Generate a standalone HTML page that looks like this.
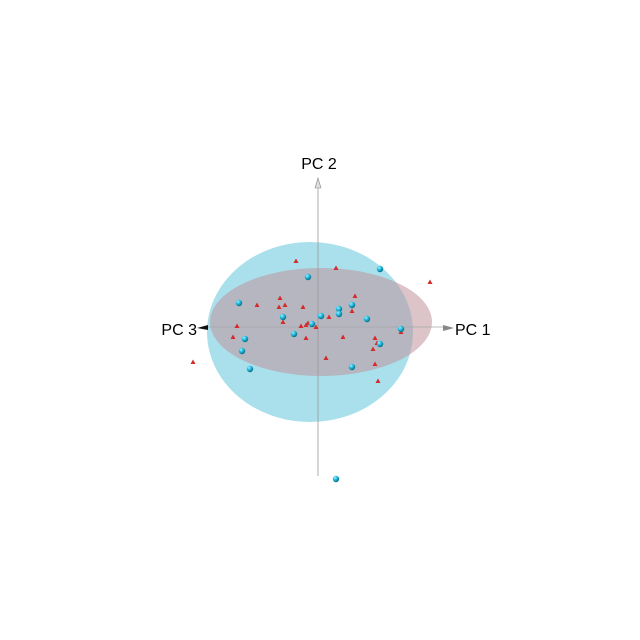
<!DOCTYPE html>
<html><head><meta charset="utf-8"><style>
html,body{margin:0;padding:0;background:#fff;width:640px;height:640px;overflow:hidden}
text{font-family:"Liberation Sans",sans-serif;font-size:16px;fill:#000}
</style></head><body>
<svg id="chart" width="640" height="640" viewBox="0 0 640 640">
<defs>
<radialGradient id="sph" cx="0.35" cy="0.3" r="0.7"><stop offset="0" stop-color="#9ff0ff"/><stop offset="0.5" stop-color="#1fb8dc"/><stop offset="1" stop-color="#0a6d86"/></radialGradient>
</defs>
<g id="ellipses"></g>
<g id="axes">
<line x1="318" y1="186" x2="318" y2="476" stroke="#999" stroke-width="1" stroke-opacity="0.8"/>
<line x1="205" y1="327" x2="445" y2="327" stroke="#aaa" stroke-width="1" stroke-opacity="0.8"/>
<path d="M318,178 L315,188 L321,188 Z" fill="#ddd" stroke="#888" stroke-width="0.6"/>
<path d="M454,328 L443,325 L443,331 Z" fill="#888"/>
<path d="M197,328 L208,325 L208,330 Z" fill="#111"/>
<text x="319" y="169" text-anchor="middle">PC 2</text>
<text x="455" y="335">PC 1</text>
<text x="197" y="335" text-anchor="end">PC 3</text>
</g>
<g id="points"></g>
</svg>
<script>
const blueX=[3.1,-0.5,-3.95,1.7,1.05,1.05,-1.75,0.15,2.45,-0.3,-1.2,-3.65,-3.8,-3.4,4.15,3.1,1.7,0.9];
const blueY=[2.9,2.5,1.2,1.1,0.9,0.65,0.5,0.55,0.4,0.15,-0.35,-0.6,-1.2,-2.1,-0.1,-0.85,-2.0,-7.6];
const redX=[-1.1,0.9,5.6,1.85,-1.9,-3.05,-1.95,-1.65,-0.75,1.7,-1.75,0.55,-0.5,-0.6,-0.1,-0.85,-4.05,-4.25,-0.6,1.25,2.85,2.95,2.75,4.15,0.4,2.85,3.0,-6.25];
const redY=[3.3,2.95,2.25,1.55,1.45,1.1,1.0,1.1,1.0,0.8,0.25,0.5,0.2,0.1,0,0.05,0.05,-0.5,-0.55,-0.5,-0.55,-0.8,-1.1,-0.25,-1.55,-1.85,-2.7,-1.75];
const ellBlue=[-0.4,-0.25,5.15,4.5];
const ellRed=[0.15,0.25,5.55,2.7];
const NS='http://www.w3.org/2000/svg';
const sx=v=>318+v*20, sy=v=>327-v*20;
const eg=document.getElementById('ellipses');
function ell(e,fill,op,name){const el=document.createElementNS(NS,'ellipse');
el.setAttribute('cx',sx(e[0]));el.setAttribute('cy',sy(e[1]));el.setAttribute('rx',e[2]*20);el.setAttribute('ry',e[3]*20);
el.setAttribute('fill',fill);el.setAttribute('fill-opacity',op);


eg.appendChild(el);}
ell(ellBlue,'#9adbe8',0.85,'group-2-ellipsoid');
ell(ellRed,'#c0949c',0.55,'group-1-ellipsoid');
const pg=document.getElementById('points');
for(let i=0;i<redX.length;i++){const x=sx(redX[i]),y=sy(redY[i]);
const p=document.createElementNS(NS,'path');
p.setAttribute('d',`M${x},${y-2.5} L${x+2.5},${y+2} L${x-2.5},${y+2} Z`);p.setAttribute('fill','#d42a2a');


pg.appendChild(p);}
for(let i=0;i<blueX.length;i++){const c=document.createElementNS(NS,'circle');
c.setAttribute('cx',sx(blueX[i]));c.setAttribute('cy',sy(blueY[i]));c.setAttribute('r',3.2);c.setAttribute('fill','url(#sph)');


pg.appendChild(c);}
</script>
</body></html>
